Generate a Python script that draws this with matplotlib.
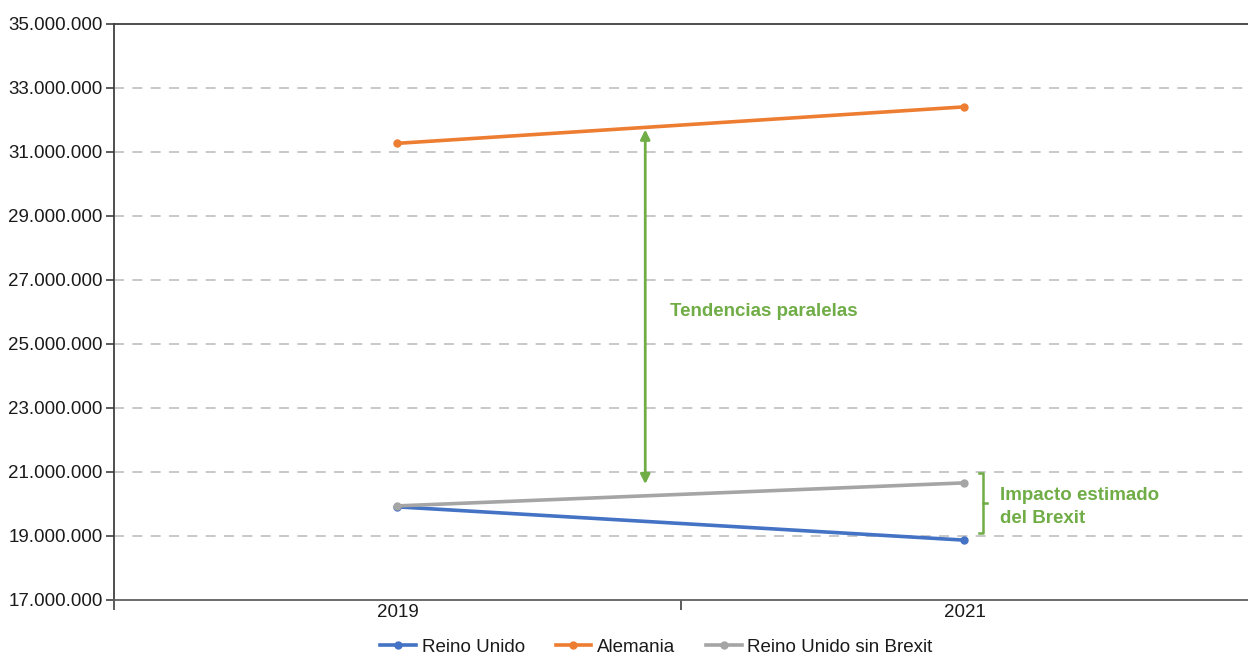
import matplotlib
matplotlib.use("Agg")
import matplotlib.pyplot as plt
from matplotlib.ticker import FuncFormatter, FixedLocator

plt.rcParams['font.family'] = ['Liberation Sans', 'DejaVu Sans']

years = ["2019", "2021"]
reino_unido = [19910000, 18870000]
alemania = [31270000, 32410000]
reino_unido_sin_brexit = [19940000, 20660000]
y_ticks = [17000000, 19000000, 21000000, 23000000, 25000000, 27000000,
           29000000, 31000000, 33000000, 35000000]

arrow_x = 0.437
arrow_top = 31700000
arrow_bottom = 20620000
bracket_x = 1.025
bracket_top = 20980000
bracket_bottom = 19090000

FS = 13.5

fig = plt.figure(figsize=(12.48, 6.55), dpi=100)
ax = fig.add_axes([0.0913, 0.084, 0.9087, 0.8794])

x = list(range(len(years)))
blue = "#4472C4"
orange = "#ED7D31"
gray = "#A5A5A5"
green = "#70AD47"

ax.plot(x, reino_unido, color=blue, lw=2.6, marker='o', ms=5, label="Reino Unido", zorder=3)
ax.plot(x, alemania, color=orange, lw=2.6, marker='o', ms=5, label="Alemania", zorder=3)
ax.plot(x, reino_unido_sin_brexit, color=gray, lw=2.6, marker='o', ms=5, label="Reino Unido sin Brexit", zorder=3)

ax.set_xlim(-0.5, 1.5)
ax.set_ylim(17000000, 35000000)

ax.yaxis.set_major_locator(FixedLocator(y_ticks))
ax.yaxis.set_major_formatter(FuncFormatter(lambda v, p: f"{int(v):,}".replace(",", ".")))
for t in y_ticks[1:-1]:
    ax.axhline(t, color="#BFBFBF", lw=1.2, dashes=(6, 5), zorder=1)

ax.set_xticks([-0.5, 0.5])
ax.set_xticklabels([])
ax.set_xticks(x, minor=True)
ax.set_xticklabels(years, minor=True)
ax.tick_params(axis='x', which='major', length=7, width=1.2, color="#404040", direction='out')
ax.tick_params(axis='x', which='minor', length=0, labelsize=FS, pad=3, labelcolor="#1a1a1a")
ax.tick_params(axis='y', length=6, width=1.2, color="#404040", labelsize=FS, pad=2, labelcolor="#1a1a1a")

for s in ['left', 'top', 'bottom']:
    ax.spines[s].set_color("#404040")
    ax.spines[s].set_linewidth(1.3)
ax.spines['right'].set_visible(False)
ax.spines['bottom'].set_color("#606060")

# annotations
ax.annotate("", xy=(arrow_x, arrow_top), xytext=(arrow_x, arrow_bottom),
            arrowprops=dict(arrowstyle='<|-|>', color=green, lw=2, mutation_scale=14, shrinkA=0, shrinkB=0))
ax.text(0.48, 26000000, "Tendencias paralelas", color=green, fontsize=FS, fontweight='bold',
        ha='left', va='center')

ax.plot([bracket_x, bracket_x + 0.008, bracket_x + 0.008, bracket_x], [bracket_top, bracket_top, bracket_bottom, bracket_bottom],
        color=green, lw=1.8, clip_on=False)
ax.plot([bracket_x + 0.008, bracket_x + 0.014], [(bracket_top + bracket_bottom) / 2] * 2, color=green, lw=1.8)
ax.text(1.062, 19900000, "Impacto estimado\ndel Brexit", color=green, fontsize=FS, fontweight='bold',
        ha='left', va='center', linespacing=1.45)

leg = fig.legend(loc='lower center', bbox_to_anchor=(0.526, -0.027), ncol=3, frameon=False,
                 fontsize=FS, handlelength=1.9, columnspacing=1.65, handletextpad=0.3)
for t in leg.get_texts():
    t.set_color("#1a1a1a")

fig.savefig("out.png", dpi=100)
